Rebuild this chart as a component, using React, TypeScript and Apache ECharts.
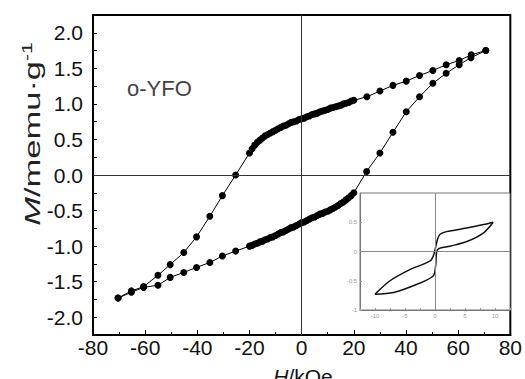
import React, { useEffect, useRef } from 'react';
import * as echarts from 'echarts';

// Main loop: descending-field branch (H from +70 to -70)
const descH = [70.6, 65, 60.4, 55.4, 50.3, 45.2, 40.1, 35, 30, 25,
  20, 19, 18, 17, 16, 15, 14, 13, 12, 11, 10, 9, 8, 7, 6, 5, 4, 3, 2, 1, 0,
  -1, -2, -3, -4, -5, -6, -7, -8, -9, -10, -11, -12, -13, -14, -15, -16, -17, -18, -19, -20,
  -25.3, -30.4, -35.2, -40.3, -45.2, -50.4, -55.1, -60.6, -65.3, -70.4];
const descM = [1.75, 1.69, 1.61, 1.55, 1.47, 1.40, 1.32, 1.26, 1.18, 1.10,
  1.05, 1.04, 1.02, 1.01, 1.00, 0.98, 0.97, 0.96, 0.95, 0.94, 0.92, 0.91, 0.90, 0.89, 0.87,
  0.86, 0.85, 0.83, 0.82, 0.80, 0.79, 0.78, 0.76, 0.75, 0.74, 0.72, 0.70, 0.69, 0.67, 0.65,
  0.63, 0.61, 0.59, 0.57, 0.55, 0.52, 0.49, 0.46, 0.42, 0.37, 0.31,
  0.00, -0.29, -0.58, -0.87, -1.09, -1.26, -1.41, -1.57, -1.63, -1.73];

// Main loop: ascending-field branch (H from -70 to +70)
const ascH = [-70.4, -65.3, -60.6, -55.1, -50.4, -45.2, -40.3, -35.2, -30.4, -25.3,
  -20, -19, -18, -17, -16, -15, -14, -13, -12, -11, -10, -9, -8, -7, -6, -5, -4, -3, -2, -1, 0,
  1, 2, 3, 4, 5, 6, 7, 8, 9, 10, 11, 12, 13, 14, 15, 16, 17, 18, 19, 20,
  24.9, 30, 35, 40.1, 45.2, 50.3, 55.4, 60.4, 64.9, 70.6];
const ascM = [-1.73, -1.65, -1.58, -1.55, -1.44, -1.37, -1.30, -1.23, -1.14, -1.07,
  -1.00, -0.99, -0.97, -0.96, -0.94, -0.93, -0.91, -0.90, -0.88, -0.87,
  -0.85, -0.83, -0.81, -0.80, -0.78, -0.76, -0.74, -0.73, -0.71, -0.69, -0.67,
  -0.66, -0.64, -0.62, -0.60, -0.59, -0.57, -0.55, -0.54, -0.52, -0.51,
  -0.49, -0.47, -0.45, -0.43, -0.40, -0.38, -0.35, -0.32, -0.29, -0.25,
  0.05, 0.31, 0.60, 0.89, 1.10, 1.29, 1.43, 1.55, 1.65, 1.75];

// Inset loop
const insetUpH = [9.7, 8.1, 5.3, 1.9, 0.8, 0.4, -0.2, -0.8, -4.2, -7.5, -10];
const insetUpM = [0.50, 0.46, 0.40, 0.34, 0.29, 0.20, -0.05, -0.16, -0.31, -0.50, -0.73];
const insetLoH = [-10, -6.9, -3, -0.3, 0.1, 0.4, 2.5, 5.3, 8.1, 9.7];
const insetLoM = [-0.73, -0.70, -0.56, -0.42, -0.25, 0.03, 0.09, 0.17, 0.32, 0.50];

const sampleLabel = 'o-YFO';

const FONT = 'Liberation Sans, Arial, sans-serif';

const pairs = (xs: number[], ys: number[]) => xs.map((x, i) => [x, ys[i]]);

export default function App() {
  const ref = useRef<HTMLDivElement>(null);
  useEffect(() => {
    const chart = echarts.init(ref.current!, null, { renderer: 'svg' });
    const mainData = pairs(descH, descM).concat(pairs(ascH, ascM));
    const yFmt = (v: number) => {
      const r = Math.round(v * 100) / 100;
      if (Math.abs(r) > 2.001) return '';
      if (Math.abs(r * 2 - Math.round(r * 2)) > 1e-6) return '';
      return r.toFixed(1);
    };
    const insetXFmt = (v: number) => {
      const r = Math.round(v * 10) / 10;
      if (Math.abs(r) > 10.01) return '';
      if (Math.abs(r / 5 - Math.round(r / 5)) > 1e-6) return '';
      return String(r);
    };
    chart.setOption({
      animation: false,
      backgroundColor: '#fff',
      grid: [
        { left: 93, top: 15, width: 420, height: 320, show: true, borderColor: '#000', borderWidth: 2, backgroundColor: 'transparent' },
        { left: 360, top: 193, width: 150, height: 117, show: true, borderColor: '#777', borderWidth: 1, backgroundColor: '#fff' },
      ],
      xAxis: [
        {
          type: 'value', gridIndex: 0, min: -80, max: 80, interval: 20,
          axisLine: { show: true, onZero: false, lineStyle: { color: '#000', width: 2 } },
          axisTick: { show: true, inside: true, length: 5, lineStyle: { color: '#000', width: 1 } },
          minorTick: { show: true, splitNumber: 2, length: 3, lineStyle: { color: '#000' } },
          splitLine: { show: false },
          axisLabel: { fontSize: 21, color: '#111', margin: 2, fontFamily: FONT },
        },
        {
          type: 'value', gridIndex: 1, min: -12.5, max: 12.5, interval: 2.5,
          axisLine: { show: true, onZero: false, lineStyle: { color: '#777', width: 1 } },
          axisTick: { show: true, inside: true, length: 2, lineStyle: { color: '#999' } },
          splitLine: { show: false },
          axisLabel: { fontSize: 6, color: '#999', margin: 3, fontFamily: FONT, formatter: insetXFmt },
        },
      ],
      yAxis: [
        {
          type: 'value', gridIndex: 0, min: -2.25, max: 2.25, interval: 0.25,
          axisLine: { show: true, onZero: false, lineStyle: { color: '#000', width: 2 } },
          axisTick: { show: true, inside: true, length: 4, lineStyle: { color: '#000', width: 1 } },
          splitLine: { show: false },
          axisLabel: { fontSize: 21, color: '#111', margin: 10, fontFamily: FONT, formatter: yFmt },
        },
        {
          type: 'value', gridIndex: 1, min: -1, max: 1, interval: 0.5,
          axisLine: { show: true, onZero: false, lineStyle: { color: '#777', width: 1 } },
          axisTick: { show: true, inside: true, length: 2, lineStyle: { color: '#999' } },
          splitLine: { show: false },
          axisLabel: { fontSize: 6, color: '#999', margin: 3, fontFamily: FONT },
        },
      ],
      series: [
        {
          type: 'line', xAxisIndex: 0, yAxisIndex: 0, data: mainData,
          symbol: 'circle', symbolSize: 7, showSymbol: true,
          itemStyle: { color: '#000' },
          lineStyle: { color: '#000', width: 1 },
          z: 3,
          markLine: {
            silent: true, symbol: ['none', 'none'], label: { show: false },
            lineStyle: { color: '#333', width: 1, type: 'solid' },
            data: [{ xAxis: 0 }, { yAxis: 0 }],
          },
        },
        {
          type: 'line', xAxisIndex: 1, yAxisIndex: 1, data: pairs(insetUpH, insetUpM),
          showSymbol: false, smooth: 0.3,
          lineStyle: { color: '#111', width: 1.5 },
          z: 4,
          markLine: {
            silent: true, symbol: ['none', 'none'], label: { show: false },
            lineStyle: { color: '#888', width: 1, type: 'solid' },
            data: [{ xAxis: 0 }, { yAxis: 0 }],
          },
        },
        {
          type: 'line', xAxisIndex: 1, yAxisIndex: 1, data: pairs(insetLoH, insetLoM),
          showSymbol: false, smooth: 0.3,
          lineStyle: { color: '#111', width: 1.5 },
          z: 4,
        },
      ],
      graphic: [
        {
          type: 'text', x: 127, y: 77,
          style: { text: sampleLabel, fontSize: 22, fontFamily: FONT, fill: '#444' },
        },
        {
          type: 'text', x: 32, y: 134, rotation: Math.PI / 2, scaleX: 1.5,
          style: {
            text: '{i|M}/memu·g{s|-1}',
            align: 'center', verticalAlign: 'middle',
            textAlign: 'center', textVerticalAlign: 'middle',
            fontSize: 23, fontFamily: FONT, fill: '#222',
            rich: {
              i: { fontStyle: 'italic', fontSize: 23, fontFamily: FONT, fill: '#222' },
              s: { fontSize: 14, fontFamily: FONT, verticalAlign: 'top', fill: '#222' },
            },
          },
        },
        {
          type: 'text', x: 303, y: 366,
          style: {
            text: '{i|H}/kOe',
            align: 'center', verticalAlign: 'top',
            textAlign: 'center', textVerticalAlign: 'top',
            fontSize: 21, fontFamily: FONT, fill: '#111',
            rich: {
              i: { fontStyle: 'italic', fontSize: 21, fontFamily: FONT, fill: '#111' },
            },
          },
        },
      ],
    });
    return () => chart.dispose();
  }, []);
  return <div ref={ref} style={{ position: 'absolute', left: 0, top: 0, width: 525, height: 379 }} />;
}
